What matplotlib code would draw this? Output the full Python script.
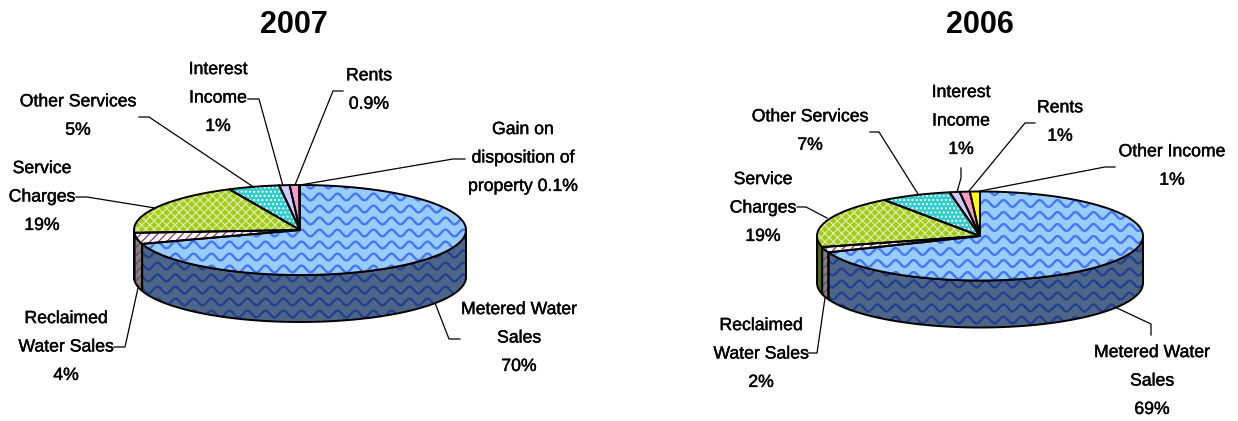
"""Two 3D-style pie charts of revenue shares, 2007 and 2006."""

import matplotlib

matplotlib.use("Agg")
import matplotlib.patheffects as pe
import matplotlib.pyplot as plt
import numpy as np
from matplotlib.patches import Polygon

plt.rcParams["font.family"] = ["Liberation Sans", "DejaVu Sans"]
plt.rcParams["hatch.linewidth"] = 0.9

# shares, clockwise from twelve o'clock
labels_2007 = [
    "Metered Water\nSales\n70%",
    "Reclaimed\nWater Sales\n4%",
    "Service\nCharges\n19%",
    "Other Services\n5%",
    "Interest\nIncome\n1%",
    "Rents\n0.9%",
    "Gain on\ndisposition of\nproperty 0.1%",
]
values_2007 = [70, 4, 19, 5, 1, 0.9, 0.1]

labels_2006 = [
    "Metered Water\nSales\n69%",
    "Reclaimed\nWater Sales\n2%",
    "Service\nCharges\n19%",
    "Other Services\n7%",
    "Interest\nIncome\n1%",
    "Rents\n1%",
    "Other Income\n1%",
]
values_2006 = [69, 2, 19, 7, 1, 1, 1]

# layout, in image pixels
label_pos_2007 = [(519, 338), (66, 347), (42, 197), (78, 116), (218, 98), (369, 90), (523, 158)]
label_pos_2006 = [(1152, 381), (761, 354), (763, 208), (810, 131), (961, 121), (1060, 122), (1172, 166)]

leaders_2007 = [
    [(460, 339), (449, 339), (435, 303)],
    [(114, 347), (125, 347), (138, 288)],
    [(76, 197), (87, 197), (155, 208)],
    [(139, 117), (149, 117), (252, 186)],
    [(248, 99), (259, 99), (283, 186)],
    [(343, 91), (333, 91), (295, 185)],
    [(465, 159), (453, 159), (300, 185)],
]
leaders_2006 = [
    [(1151, 335), (1151, 324), (1117, 308)],
    [(808, 353), (817, 353), (825, 298)],
    [(797, 207), (806, 207), (827, 218)],
    [(870, 132), (879, 132), (918, 194)],
    [(961, 168), (961, 178), (957, 192)],
    [(1035, 123), (1025, 123), (969, 191)],
    [(1115, 167), (1105, 167), (980, 191)],
]

# (face, hatch colour, hatch, side face, side hatch colour)
wedge_styles = [
    ("#99ccff", "#4477ff", "wave", "#4d6687", "#233f90"),
    ("#ffffff", "#993366", "////", "#808080", "#7a4060"),
    ("#a4cc14", "#dcebb0", "xxxx", "#52660a", "#52660a"),
    ("#33cccc", "#ffffff", "....", "#1a6666", "#1a6666"),
    ("#ccccff", "#ffffff", "", "#666680", "#666680"),
    ("#ff99cc", "#ffffff", "", "#804d66", "#804d66"),
    ("#ffff00", "#000000", "", "#808000", "#808000"),
]


def ellipse_pts(cx, cy, rx, ry, a0, a1):
    """Arc points, angle in degrees clockwise from the top, y pointing down."""
    t = np.radians(np.linspace(a0, a1, max(int(abs(a1 - a0)) * 2, 2)))
    return np.column_stack([cx + rx * np.sin(t), cy - ry * np.cos(t)])


def add_waves(ax, patch, x0, x1, y0, y1, color):
    # wavy fill pattern, clipped to the wedge
    xs = np.arange(x0, x1, 1.0)
    for y in np.arange(y0, y1, 12.0):
        line, = ax.plot(xs, y + 3.4 * np.sin(xs * 2 * np.pi / 18), color=color, lw=1.7, zorder=patch.get_zorder())
        line.set_clip_path(patch)


def draw_face(ax, pts, face, hatch_color, hatch, zorder):
    if hatch and hatch != "wave":
        ax.add_patch(Polygon(pts, closed=True, facecolor=face, edgecolor=hatch_color,
                             hatch=hatch, lw=0, zorder=zorder))
    else:
        ax.add_patch(Polygon(pts, closed=True, facecolor=face, edgecolor="none", zorder=zorder))
    patch = ax.patches[-1]
    if hatch == "wave":
        xs, ys = pts[:, 0], pts[:, 1]
        add_waves(ax, patch, xs.min(), xs.max(), ys.min() - 12, ys.max() + 12, hatch_color)
    ax.add_patch(Polygon(pts, closed=True, facecolor="none", edgecolor="black", lw=1.4, zorder=zorder + 0.5))


def draw_pie(ax, cx, cy, rx, ry, depth, values):
    edges = np.concatenate([[0], np.cumsum(values)]) / np.sum(values) * 360
    for i, style in enumerate(wedge_styles):
        a0, a1 = edges[i], edges[i + 1]
        # outer wall only for the part of the arc facing the viewer
        s0, s1 = max(a0, 90), min(a1, 270)
        if s1 > s0:
            upper = ellipse_pts(cx, cy, rx, ry, s0, s1)
            lower = ellipse_pts(cx, cy + depth, rx, ry, s1, s0)
            draw_face(ax, np.vstack([upper, lower]), style[3], style[4], style[2], 2)
    for i, style in enumerate(wedge_styles):
        a0, a1 = edges[i], edges[i + 1]
        pts = np.vstack([[(cx, cy)], ellipse_pts(cx, cy, rx, ry, a0, a1)])
        draw_face(ax, pts, style[0], style[1], style[2], 4)


def draw_labels(ax, labels, positions, leaders):
    for text, (x, y), leader in zip(labels, positions, leaders):
        t = ax.text(x, y, text, ha="center", va="center", fontsize=12.7, linespacing=1.88, color="black")
        t.set_path_effects([pe.withStroke(linewidth=0.3, foreground="black")])
        xs, ys = zip(*leader)
        ax.plot(xs, ys, color="black", lw=0.9, zorder=1)


fig = plt.figure(figsize=(12.38, 4.21), dpi=100)
ax = fig.add_axes([0, 0, 1, 1])
ax.set_xlim(0, 1238)
ax.set_ylim(421, 0)
ax.axis("off")

draw_pie(ax, 300, 230, 166, 45, 47, values_2007)
draw_pie(ax, 980, 236, 163, 44.5, 47, values_2006)
draw_labels(ax, labels_2007, label_pos_2007, leaders_2007)
draw_labels(ax, labels_2006, label_pos_2006, leaders_2006)

ax.text(294, 25, "2007", ha="center", va="center", fontsize=22, fontweight="bold")
ax.text(980, 25, "2006", ha="center", va="center", fontsize=22, fontweight="bold")

fig.savefig("out.png", dpi=100)
